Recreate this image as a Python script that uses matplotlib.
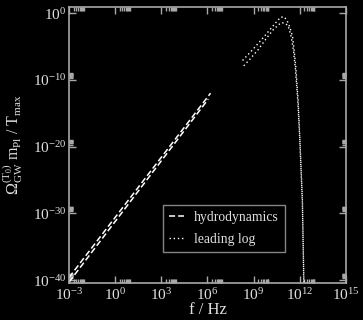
import numpy as np
import matplotlib
matplotlib.use('Agg')
from matplotlib import pyplot as plt
from matplotlib.ticker import FixedLocator, NullFormatter

# values, as log10
hydro_f1 = [-3.0, 6.2]
hydro_om1 = [-39.6, -12.0]
hydro_f2 = [-3.0, 6.05]
hydro_om2 = [-40.3, -12.9]

ll_f1 = [8.28, 8.97, 9.73, 10.49, 10.75, 10.98, 11.18, 11.35, 11.53, 11.63, 11.74, 11.89, 12.0, 12.17, 12.26]
ll_om1 = [-7.1, -5.4, -3.4, -1.3, -0.64, -0.55, -1.15, -2.1, -3.5, -5.5, -8.0, -13.0, -18.5, -27.9, -40.5]
ll_f2 = [8.36, 8.8, 9.29, 9.73, 10.27, 10.77, 11.03, 11.24, 11.45, 11.6, 11.72, 11.88, 12.0, 12.17, 12.27]
ll_om2 = [-7.9, -6.8, -5.5, -4.1, -2.5, -1.45, -1.5, -1.9, -3.6, -5.8, -8.5, -13.5, -19.0, -28.5, -40.5]

xmajor = [-3, 0, 3, 6, 9, 12, 15]
ymajor = [-40, -30, -20, -10, 0]

fg = '#e0e0e0'
axc = '#a8a8a8'
plt.rcParams['font.family'] = ['Liberation Serif', 'DejaVu Serif']
plt.rcParams['mathtext.fontset'] = 'custom'
plt.rcParams['mathtext.rm'] = 'Liberation Serif'
plt.rcParams['mathtext.it'] = 'Liberation Serif:italic'

fig = plt.figure(figsize=(3.63, 3.2), dpi=100, facecolor='black')
ax = fig.add_axes([0.190, 0.116, 0.763, 0.862], facecolor='black')

p = lambda v: 10 ** np.array(v, dtype=float)
ax.plot(p(hydro_f1), p(hydro_om1), color='white', lw=1.1, ls=(0, (4, 2)), label='hydrodynamics')
ax.plot(p(hydro_f2), p(hydro_om2), color='white', lw=1.1, ls=(0, (4, 2)))
ax.plot(p(ll_f1), p(ll_om1), color='white', lw=1.0, ls=(0, (1, 2)), label='leading log')
ax.plot(p(ll_f2), p(ll_om2), color='white', lw=1.0, ls=(0, (1, 2)))

ax.set_xscale('log')
ax.set_yscale('log')
ax.set_xlim(1e-3, 1e15)
ax.set_ylim(10 ** -40.4, 10 ** 0.9)

ax.xaxis.set_major_locator(FixedLocator(p(xmajor)))
ax.yaxis.set_major_locator(FixedLocator(p(ymajor)))
ax.xaxis.set_minor_locator(FixedLocator([k * 10.0 ** m for m in xmajor[:-1] for k in range(2, 10)]))
ax.yaxis.set_minor_locator(FixedLocator([k * 10.0 ** m for m in ymajor[:-1] for k in range(2, 10)]))
ax.xaxis.set_minor_formatter(NullFormatter())
ax.yaxis.set_minor_formatter(NullFormatter())
ax.set_xticklabels(['10$^{\\mathrm{%d}}$' % m for m in xmajor])
ax.set_yticklabels(['10$^{\\mathrm{%d}}$' % m for m in ymajor])

for s in ax.spines.values():
    s.set_color(axc)
    s.set_linewidth(1.2)
ax.tick_params(which='both', direction='in', top=True, right=True, color=axc, labelcolor=fg, labelsize=11)
ax.tick_params(which='major', length=5, width=1)
ax.tick_params(which='minor', length=3, width=1)
ax.tick_params(axis='x', pad=3)
ax.tick_params(axis='y', pad=2)

ax.set_xlabel('f / Hz', color=fg, fontsize=12, labelpad=-1)
ax.set_ylabel(r'$\Omega_{\mathrm{GW}}^{(\mathrm{T}_0)}$ m$_{\mathrm{Pl}}$ / T$_{\mathrm{max}}$', color=fg, fontsize=11.5)
ax.yaxis.set_label_coords(-0.16, 0.5)

leg = ax.legend(loc='lower left', bbox_to_anchor=(0.34, 0.112), borderaxespad=0, frameon=True, fancybox=False,
                facecolor='black', edgecolor=axc, fontsize=9.8, handlelength=1.1, handletextpad=0.7,
                borderpad=0.45, labelspacing=0.65)
leg.get_frame().set_linewidth(1.0)
for t in leg.get_texts():
    t.set_color(fg)

fig.savefig('out.png', dpi=100, facecolor='black')
